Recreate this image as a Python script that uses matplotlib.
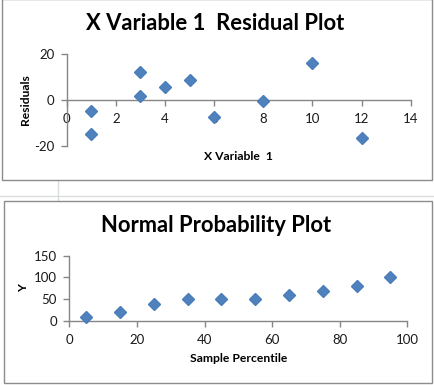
import matplotlib
matplotlib.use("Agg")
import matplotlib.pyplot as plt
from matplotlib.patches import Rectangle
from matplotlib.lines import Line2D

plt.rcParams['font.family'] = ['Lato', 'DejaVu Sans']
plt.rcParams['axes.unicode_minus'] = False

# residual plot data
x_var1 = [1, 1, 3, 3, 4, 5, 6, 8, 10, 12]
residuals = [-4.8, -15.0, 12.1, 1.9, 5.6, 8.9, -7.4, -0.3, 16.3, -16.8]

# normal probability plot data
percentile = [5, 15, 25, 35, 45, 55, 65, 75, 85, 95]
y_sorted = [10, 20, 40, 50, 50, 50, 60, 70, 80, 100]

W, H = 434, 385
blue = '#4F81BD'
axis_gray = '#868686'
frame_gray = '#8C8C8C'
grid_gray = '#DADCDD'

fig = plt.figure(figsize=(W / 100, H / 100), dpi=100)
fig.patch.set_facecolor('white')


def px(x, y):
    # pixel coords (from top-left) -> figure fraction
    return x / W, 1 - y / H


# spreadsheet gridlines between the two charts
fig.add_artist(Line2D([58 / W, 58 / W], [1 - 180 / H, 1 - 201 / H], color=grid_gray, lw=1, zorder=-2))
fig.add_artist(Line2D([0, 1], [1 - 196 / H, 1 - 196 / H], color=grid_gray, lw=1, zorder=-2))

# chart frames
for (x0, y0, x1, y1) in [(1.5, -1, 432, 180), (3.5, 201, 432, 382.5)]:
    fx0, fy1 = px(x0, y0)
    fx1, fy0 = px(x1, y1)
    fig.add_artist(Rectangle((fx0, fy0), fx1 - fx0, fy1 - fy0, transform=fig.transFigure,
                             facecolor='white', edgecolor=frame_gray, lw=1, zorder=-1))


def style_axes(ax):
    for s in ['top', 'right']:
        ax.spines[s].set_visible(False)
    for s in ['left', 'bottom']:
        ax.spines[s].set_color(axis_gray)
        ax.spines[s].set_linewidth(1)
    ax.tick_params(direction='out', length=4, width=1, color=axis_gray,
                   labelsize=9.5, labelcolor='#1a1a1a')
    ax.tick_params(axis='y', pad=5)
    ax.tick_params(axis='x', pad=5.5)
    ax.set_facecolor('none')


# top: residual plot
l, t = px(66.7, 54.3)
r, b = px(410.7, 145.7)
ax1 = fig.add_axes([l, b, r - l, t - b])
ax1.plot(x_var1, residuals, 'D', ms=6.3, color=blue, mec='#4A7EBB', clip_on=False, zorder=3)
ax1.set_xlim(0, 14)
ax1.set_ylim(-20, 20)
ax1.set_xticks(range(0, 15, 2))
ax1.set_yticks([-20, 0, 20])
style_axes(ax1)
ax1.spines['bottom'].set_position(('data', 0))
ax1.set_xlabel('X Variable  1', fontsize=8.7, fontweight='bold', va='center')
ax1.xaxis.set_label_coords(0.5, (145.7 - 157) / 91.4)
ax1.set_ylabel('Residuals', fontsize=8.7, fontweight='bold', va='center')
ax1.yaxis.set_label_coords((26 - 66.7) / 344, 0.5)
fig.text(*px(215, 24), 'X Variable 1  Residual Plot', fontsize=15.8, fontweight='bold',
         ha='center', va='center')

# bottom: normal probability plot
l, t = px(69.3, 255.7)
r, b = px(407.3, 321)
ax2 = fig.add_axes([l, b, r - l, t - b])
ax2.plot(percentile, y_sorted, 'D', ms=6.3, color=blue, mec='#4A7EBB', clip_on=False, zorder=3)
ax2.set_xlim(0, 100)
ax2.set_ylim(0, 150)
ax2.set_xticks(range(0, 101, 20))
ax2.set_yticks([0, 50, 100, 150])
style_axes(ax2)
ax2.set_xlabel('Sample Percentile', fontsize=8.7, fontweight='bold', va='center')
ax2.xaxis.set_label_coords(0.5, (321 - 359) / 65.3)
ax2.set_ylabel('Y', fontsize=8.7, fontweight='bold', va='center')
ax2.yaxis.set_label_coords((24 - 69.3) / 338, 0.5)
fig.text(*px(216, 225), 'Normal Probability Plot', fontsize=15.8, fontweight='bold',
         ha='center', va='center')

fig.savefig('out.png', dpi=100)
